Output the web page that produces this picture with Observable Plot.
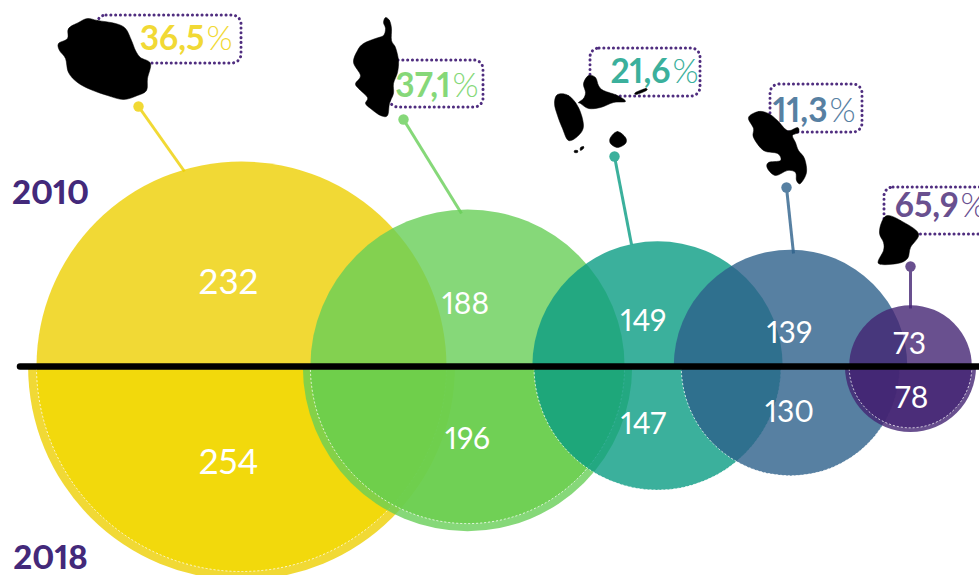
<!DOCTYPE html>
<html><head><meta charset="utf-8">
<script src="https://cdn.jsdelivr.net/npm/d3@7"></script>
<script src="https://cdn.jsdelivr.net/npm/@observablehq/plot@0.6"></script>
<style>html,body{margin:0;padding:0;background:#fff}svg{display:block}</style>
</head><body><div id="chart"></div>
<script>
// Values
const territories = ["La Réunion","Corse","Guadeloupe","Martinique","Guyane"];
const values2010 = [232,188,149,139,73];
const values2018 = [254,196,147,130,78];
const shares = ["36,5","37,1","21,6","11,3","65,9"];
const years = ["2010","2018"];
// bubble size, in the same units as the values
const bubble2010 = [244,187,149,139,73];

// Placement (chart units)
const horizon = 366;
const centerX = [241,467,657,790,910];
const label2010X = [228,465,643,789,909], label2010Y = [282,304,321,333,344];
const label2018X = [228,467,643,789,911], label2018Y = [462,439,424,412,398];
const pinX = [138,403,614,786,910], pinY = [106,119,156,187,266];
const stemX = [184,461,631,793,910], stemY = [171,213,244,253,308];
const boxX1 = [97,389,590,770,884], boxX2 = [241,483,700,862,1000];
const boxY1 = [15,60,48,84,187], boxY2 = [63,107,96,132,234];
const shareX = [204,450,670,827,958], shareY = [39,86,72,111,206];

const fills = ["#EECF03","#68CE57","#0A9C83","#2D608B","#432473"];
const innerFills = ["#F2D802","#6ACE4C","#0A9C83","#2D608B","#432473"];
const solids = ["#F1D935","#86D879","#3BB09C","#5780A2","#69508F"];

// Island outlines
const reunion = [[87,18],[97,20],[115,23],[125,28],[131,40],[135,50],[140,57],[150,63],[147,78],[146,90],[137,95],[123,99],[107,95],[90,89],[77,82],[68,72],[65,58],[59,50],[58,43],[67,38],[68,28],[78,22]];
const corse = [[385,17],[389,20],[391,28],[391,40],[395,47],[398,60],[397,72],[393,83],[393,93],[389,103],[387,115],[380,115],[370,108],[365,103],[367,97],[358,88],[355,83],[360,75],[353,62],[357,50],[363,43],[375,38],[383,35],[385,28],[383,22]];
const basseTerre = [[557,94],[568,95],[578,107],[583,125],[578,135],[568,140],[562,128],[557,115],[554,103]];
const grandeTerre = [[578,102],[583,98],[585,92],[583,83],[588,75],[595,77],[598,85],[603,90],[617,95],[625,101],[613,102],[600,107],[588,108],[580,103]];
const marieGalante = [[610,137],[617,131],[625,137],[625,143],[617,147],[610,143]];
const desirade = [[635,92],[645,88],[646,90],[636,94]];
const saintes = [[574,150],[577,150],[577,152],[574,152]];
const saintes2 = [[580,147],[583,146],[583,148],[580,150]];
const martinique = [[748,117],[758,111],[768,113],[777,120],[787,130],[797,127],[798,132],[792,135],[795,142],[798,150],[804,158],[806,172],[800,183],[796,180],[795,172],[787,170],[775,175],[767,168],[768,162],[780,160],[777,153],[763,150],[753,137],[753,128]];
const guyane = [[887,215],[900,220],[918,233],[910,247],[907,258],[897,263],[878,263],[883,250],[883,242],[879,233],[881,222]];
const islands = [reunion,corse,basseTerre,grandeTerre,marieGalante,desirade,saintes,saintes2,martinique,guyane];

const idx = d3.range(territories.length);
const opacity = 0.8;
const numFont = "Lato, sans-serif";

const bubbles = idx.flatMap(i => {
  const grew = values2018[i] > values2010[i];
  const layer = [
    Plot.dot([i], {x: () => centerX[i], y: () => horizon, r: () => bubble2010[i], fill: fills[i], fillOpacity: opacity}),
    Plot.dot([i], {x: () => centerX[i], y: () => horizon, r: () => values2018[i], fill: fills[i], fillOpacity: opacity})
  ];
  layer.push(grew
    ? Plot.dot([i], {x: () => centerX[i], y: () => horizon, r: () => bubble2010[i], fill: innerFills[i], fillOpacity: opacity, stroke: "#fff", strokeWidth: 0.8, strokeDasharray: "2,2"})
    : Plot.dot([i], {x: () => centerX[i], y: () => horizon, r: () => values2018[i], fill: "none", stroke: "#fff", strokeWidth: 0.8, strokeDasharray: "2,2"}));
  return layer;
});

const plot = Plot.plot({
  width: 979, height: 575,
  margin: 0,
  style: {background: "#fff", overflow: "hidden", fontVariantNumeric: "proportional-nums"},
  x: {domain: [0,979], range: [0,979], axis: null},
  y: {domain: [0,575], range: [0,575], axis: null},
  r: {type: "linear", domain: [0,254], range: [0,213.4]},
  marks: [
    Plot.link(idx, {x1: i => pinX[i], y1: i => pinY[i], x2: i => stemX[i], y2: i => stemY[i], stroke: i => solids[i], strokeWidth: 3}),
    Plot.dot(idx, {x: i => pinX[i], y: i => pinY[i], r: 5.2 , fill: i => solids[i]}),
    Plot.rect(idx, {x1: i => boxX1[i], x2: i => boxX2[i], y1: i => boxY1[i], y2: i => boxY2[i], rx: 9, fill: "none", stroke: "#4F2D7F", strokeWidth: 3, strokeDasharray: "0.1,4.7", strokeLinecap: "round"}),
    ...bubbles,
    Plot.ruleY([horizon], {x1: 20, x2: 990, stroke: "#000", strokeWidth: 6.5, strokeLinecap: "round"}),
    ...islands.map(o => Plot.line(o, {x: d => d[0], y: d => d[1], fill: "#000", stroke: "#000", strokeWidth: 0.5, curve: "cardinal-closed"})),
    Plot.text(idx, {x: i => label2010X[i], y: i => label2010Y[i], text: i => String(values2010[i]), fill: "#fff", fontFamily: numFont, fontWeight: 400, fontSize: i => i === 0 ? 35 : 30}),
    Plot.text(idx, {x: i => label2018X[i], y: i => label2018Y[i], text: i => String(values2018[i]), fill: "#fff", fontFamily: numFont, fontWeight: 400, fontSize: i => i === 0 ? 35 : 30}),
    Plot.text(idx, {x: i => shareX[i], y: i => shareY[i], text: i => shares[i], textAnchor: "end", fill: i => solids[i], fontFamily: numFont, fontWeight: 700, fontSize: 33.5}),
    Plot.text(idx, {x: i => shareX[i] + 2, y: i => shareY[i], text: () => "%", textAnchor: "start", fill: i => solids[i], fontFamily: numFont, fontWeight: 300, fontSize: 33.5}),
    Plot.text(years, {x: () => 50, y: (d, i) => i === 0 ? 193 : 558, text: d => d, fill: "#43297A", fontFamily: numFont, fontWeight: 900, fontSize: 33})
  ]
});

// Half-disc clips along the horizon line: every territory draws upper, lower, inner lower
const sy = plot.scale("y").apply(horizon);
const svgNS = "http://www.w3.org/2000/svg";
const defs = document.createElementNS(svgNS, "defs");
[["clipUpper",0,sy],["clipLower",sy,575-sy]].forEach(([id,y,h]) => {
  const c = document.createElementNS(svgNS,"clipPath"); c.setAttribute("id",id);
  const r = document.createElementNS(svgNS,"rect");
  r.setAttribute("x",-10); r.setAttribute("y",y); r.setAttribute("width",1000); r.setAttribute("height",h);
  c.appendChild(r); defs.appendChild(c);
});
plot.insertBefore(defs, plot.firstChild);
const dotGroups = [...plot.children].filter(g => g.tagName.toLowerCase() === "g" && g.querySelector("circle"));
dotGroups.slice(1).forEach((g, k) => g.setAttribute("clip-path", k % 3 === 0 ? "url(#clipUpper)" : "url(#clipLower)"));
document.getElementById("chart").appendChild(plot);
</script></body></html>
